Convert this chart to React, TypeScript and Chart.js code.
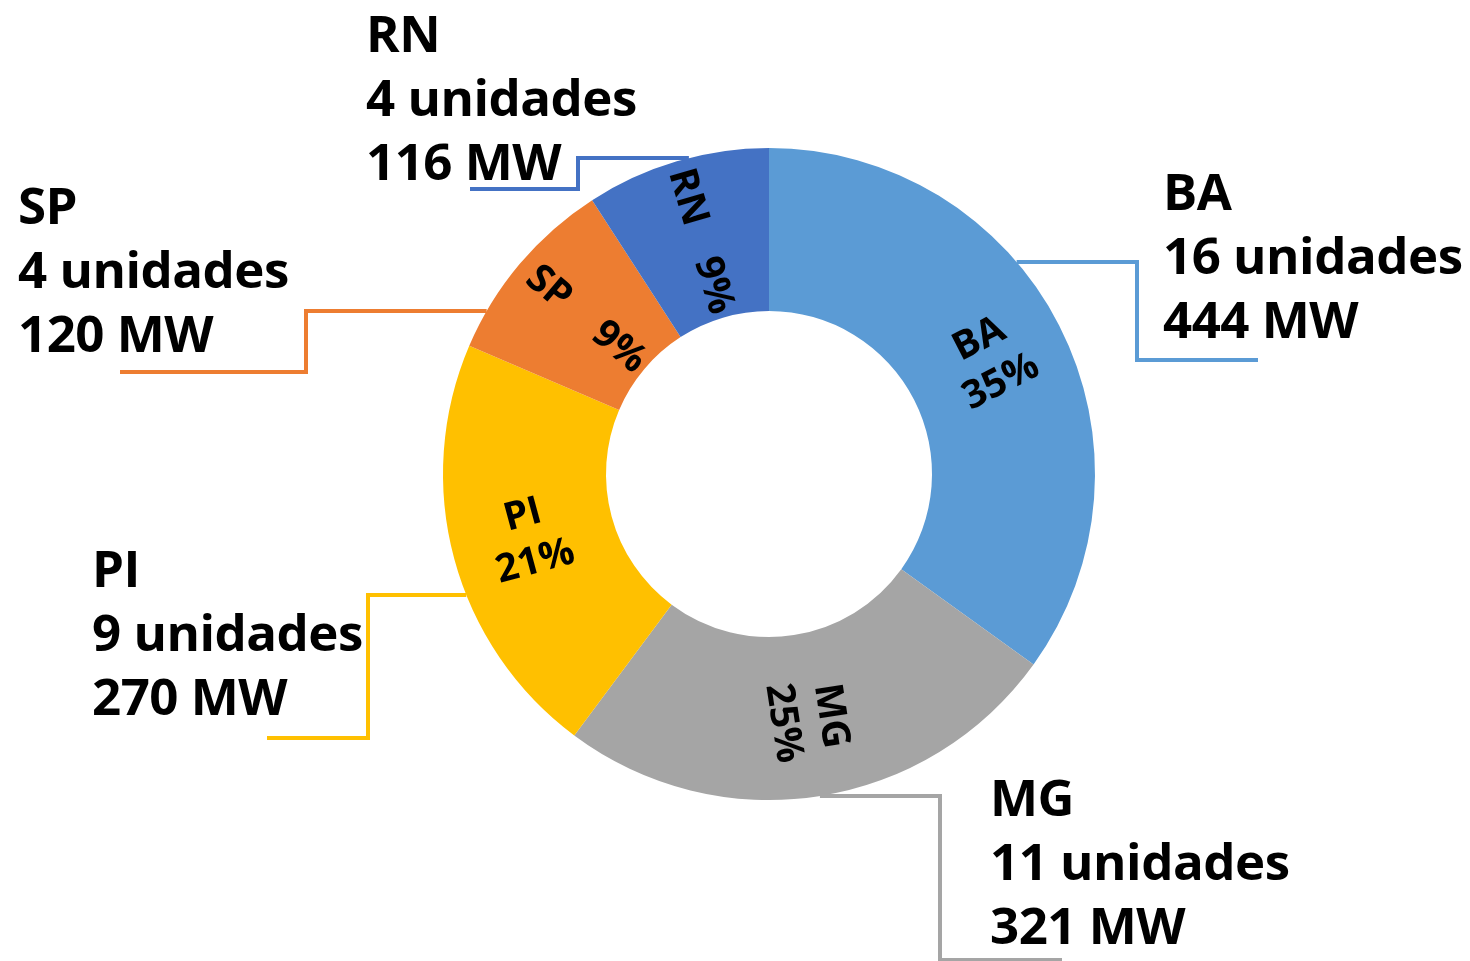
import React, { useEffect, useRef } from "react";
import { Chart, registerables } from "chart.js";

Chart.register(...registerables);

const states = ["BA", "MG", "PI", "SP", "RN"];
const capacityMW = [444, 321, 270, 120, 116];
const units = [16, 11, 9, 4, 4];
const colors = ["#5B9BD5", "#A5A5A5", "#FFC000", "#ED7D31", "#4472C4"];

// callout layout: y where leader leaves the ring, elbow x, end y, end x, text x, first baseline
const callouts = [
  { y0: 262, xe: 1137, y1: 360, x1: 1258, tx: 1163, ty: 210 },
  { y0: 796, xe: 940, y1: 960, x1: 1062, tx: 990, ty: 816 },
  { y0: 595, xe: 368, y1: 738, x1: 267, tx: 92, ty: 587 },
  { y0: 311, xe: 306, y1: 372, x1: 120, tx: 18, ty: 224 },
  { y0: 158, xe: 578, y1: 189, x1: 470, tx: 366, ty: 52 },
];

const OUT_FONT = "bold 51px 'Open Sans'";
const IN_FONT = "bold 39px 'Open Sans'";

const labelPlugin = {
  id: "doughnutLabels",
  afterDatasetsDraw(chart: any) {
    const ctx = chart.ctx;
    const meta = chart.getDatasetMeta(0);
    const total = capacityMW.reduce((a, b) => a + b, 0);
    meta.data.forEach((arc: any, i: number) => {
      const p = arc.getProps(["x", "y", "startAngle", "endAngle", "innerRadius", "outerRadius"], true);
      const c = callouts[i];
      // leader line
      const side = c.xe > p.x ? 1 : -1;
      const dy = c.y0 - p.y;
      const sx = p.x + side * Math.sqrt(Math.max(0, p.outerRadius * p.outerRadius - dy * dy));
      ctx.save();
      ctx.strokeStyle = colors[i];
      ctx.lineWidth = 4;
      ctx.lineJoin = "miter";
      ctx.beginPath();
      ctx.moveTo(sx, c.y0);
      ctx.lineTo(c.xe, c.y0);
      ctx.lineTo(c.xe, c.y1);
      ctx.lineTo(c.x1, c.y1);
      ctx.stroke();
      ctx.restore();

      // outside text
      ctx.save();
      ctx.fillStyle = "#000";
      ctx.font = OUT_FONT;
      (ctx as any).letterSpacing = "-0.5px";
      ctx.textAlign = "left";
      ctx.textBaseline = "alphabetic";
      const lines = [states[i], `${units[i]} unidades`, `${capacityMW[i]} MW`];
      lines.forEach((t, k) => ctx.fillText(t, c.tx, c.ty + k * 64));
      ctx.restore();

      // inside rotated label
      const mid = (p.startAngle + p.endAngle) / 2;
      const narrow = p.endAngle - p.startAngle < Math.PI * 0.3;
      const r = (p.innerRadius + p.outerRadius) / 2 + (narrow ? -2 : 4);
      const cx = p.x + Math.cos(mid) * r;
      const cy = p.y + Math.sin(mid) * r;
      let rot = mid;
      while (rot > Math.PI / 2) rot -= Math.PI;
      while (rot <= -Math.PI / 2) rot += Math.PI;
      const pct = Math.round((capacityMW[i] / total) * 100) + "%";
      ctx.save();
      ctx.translate(cx, cy);
      ctx.rotate(rot);
      ctx.fillStyle = "#000";
      ctx.font = IN_FONT;
      ctx.textAlign = "center";
      ctx.textBaseline = "middle";
      if (narrow) {
        ctx.fillText(states[i], -46, 0);
        ctx.fillText(pct, 46, 0);
      } else {
        ctx.fillText(states[i], 0, -24);
        ctx.fillText(pct, 0, 24);
      }
      ctx.restore();
    });
  },
};

export default function App() {
  const ref = useRef<HTMLCanvasElement>(null);
  useEffect(() => {
    if (!ref.current) return;
    const chart = new Chart(ref.current, {
      type: "doughnut",
      data: {
        labels: states,
        datasets: [
          {
            data: capacityMW,
            backgroundColor: colors,
            borderWidth: 0,
          },
        ],
      },
      options: {
        responsive: false,
        animation: false,
        devicePixelRatio: 1,
        cutout: "50%",
        layout: { padding: { left: 443, right: 375, top: 148, bottom: 161 } },
        plugins: {
          legend: { display: false },
          tooltip: { enabled: false },
        },
      },
      plugins: [labelPlugin],
    });
    if ((document as any).fonts) {
      (document as any).fonts.load(OUT_FONT).then(() => chart.update());
    }
    return () => chart.destroy();
  }, []);
  return (
    <div style={{ position: "absolute", left: 0, top: 0, width: 1470, height: 961, background: "#fff" }}>
      <canvas ref={ref} width={1470} height={961} style={{ width: 1470, height: 961, display: "block" }} />
    </div>
  );
}
